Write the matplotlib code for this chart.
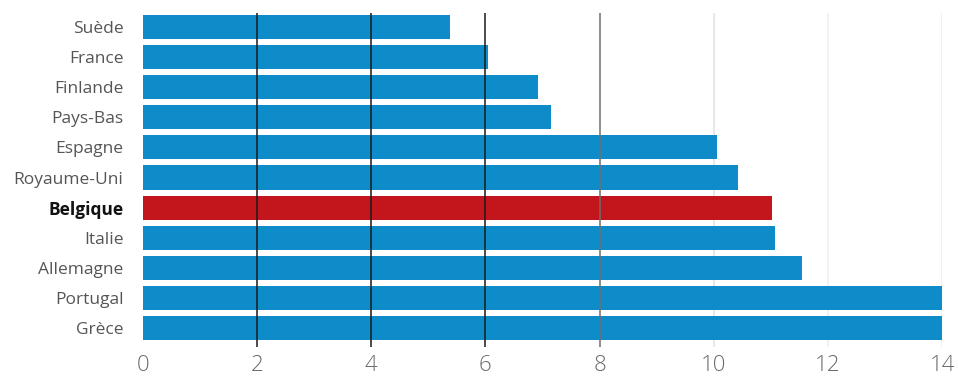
import matplotlib.pyplot as plt

pays = ["Suède", "France", "Finlande", "Pays-Bas", "Espagne", "Royaume-Uni",
        "Belgique", "Italie", "Allemagne", "Portugal", "Grèce"]
valeurs = [5.38, 6.05, 6.92, 7.15, 10.06, 10.43, 11.02, 11.07, 11.55, 14.0, 14.0]
ticks = [0, 2, 4, 6, 8, 10, 12, 14]
grid_colors = ["#1a1a1a", "#1a1a1a", "#1a1a1a", "#1a1a1a", "#6f6f6f", "#e2e2e2", "#eeeeee", "#eeeeee"]

bleu = "#0e8cc9"
rouge = "#c3161c"

plt.rcParams["font.family"] = ["Open Sans", "DejaVu Sans"]

fig = plt.figure(figsize=(9.58, 3.81), dpi=100)
ax = fig.add_axes([143 / 958, 1 - 347 / 381, (942 - 143) / 958, (347 - 13) / 381])

pos = list(range(len(pays)))
colors = [rouge if p == "Belgique" else bleu for p in pays]
ax.barh(pos, valeurs, height=0.8, color=colors, zorder=1)

# dark lines sit over the bars, the pale ones stay behind
for t, c in zip(ticks, grid_colors):
    if t == 0:
        continue
    ax.axvline(t, color=c, linewidth=1.1, zorder=3 if t <= 8 else 0)

ax.set_xlim(0, 14)
ax.set_ylim(10.63, -0.465)

ax.set_yticks(pos)
ax.set_yticklabels(pays, fontsize=12.5, color="#555555")
for lbl in ax.get_yticklabels():
    if lbl.get_text() == "Belgique":
        lbl.set_fontweight("bold")
        lbl.set_color("#111111")

ax.set_xticks(ticks)
ax.set_xticklabels([str(t) for t in ticks], fontsize=16, color="#6a6a6a",
                   fontweight="light")

ax.tick_params(axis="y", length=0, pad=14)
ax.tick_params(axis="x", length=0, pad=6)
for s in ax.spines.values():
    s.set_visible(False)

fig.savefig("out.png", dpi=100, facecolor="white")
